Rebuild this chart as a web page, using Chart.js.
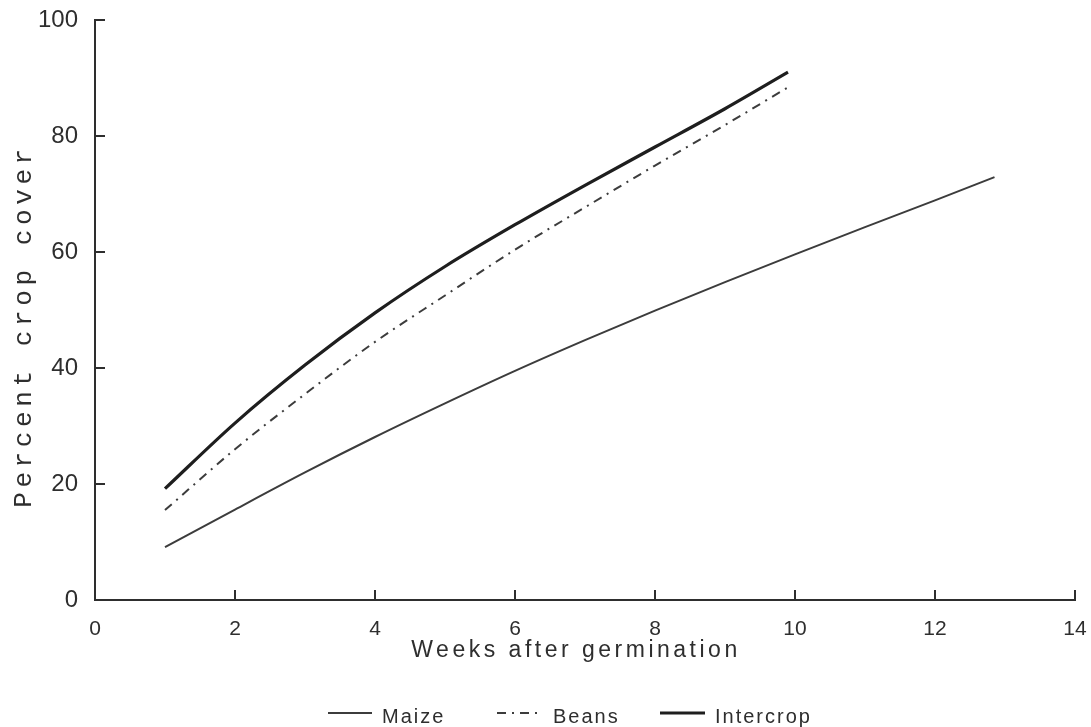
<!DOCTYPE html>
<html>
<head>
<meta charset="utf-8">
<script src="https://cdn.jsdelivr.net/npm/chart.js@4"></script>
<style>
  html, body { margin: 0; padding: 0; background: #fff; }
  #wrap { width: 1091px; height: 727px; }
</style>
</head>
<body>
<div id="wrap"><canvas id="cover"></canvas></div>
<script>
// values (weeks after germination, percent cover)
const maizeWeeks = [1, 2, 3, 4, 5, 6, 7, 8, 9, 10, 11, 12, 12.85];
const maizeCover = [9.1, 15.6, 22, 28.1, 33.9, 39.5, 44.8, 49.9, 54.8, 59.6, 64.3, 68.9, 72.9];
const beansWeeks = [1, 2, 3, 4, 5, 6, 7, 8, 9, 9.9];
const beansCover = [15.5, 26, 35.5, 44.5, 52.5, 60.4, 67.7, 74.9, 81.9, 88.4];
const intercropWeeks = [1, 2, 3, 4, 5, 6, 7, 8, 9, 9.9];
const intercropCover = [19.2, 30.5, 40.5, 49.5, 57.5, 64.7, 71.5, 78.1, 84.7, 91];
const seriesNames = ['Maize', 'Beans', 'Intercrop'];
const xTitle = 'Weeks after germination';
const yTitle = 'Percent crop cover';

const ink = '#2e2e2e';

function pairs(xs, ys) {
    return xs.map((x, i) => ({ x: x, y: ys[i] }));
}

// ticks point into the plot, titles and legend drawn by hand
const figureBits = {
    id: 'figureBits',
    afterDraw(chart) {
        const ctx = chart.ctx;
        const xs = chart.scales.x, ys = chart.scales.y;
        ctx.save();
        ctx.strokeStyle = ink;
        ctx.lineWidth = 2;
        xs.ticks.forEach(t => {
            if (t.value === 0) return;
            const px = xs.getPixelForValue(t.value);
            ctx.beginPath();
            ctx.moveTo(px, xs.top);
            ctx.lineTo(px, xs.top - 10);
            ctx.stroke();
        });
        ys.ticks.forEach(t => {
            if (t.value === 0) return;
            const py = ys.getPixelForValue(t.value);
            ctx.beginPath();
            ctx.moveTo(ys.right, py);
            ctx.lineTo(ys.right + 10, py);
            ctx.stroke();
        });

        ctx.fillStyle = ink;
        ctx.textAlign = 'center';
        ctx.textBaseline = 'middle';
        ctx.font = '23px "Liberation Sans", Arial, sans-serif';
        ctx.letterSpacing = '3.5px';
        ctx.fillText(xTitle, 576, 651);

        ctx.save();
        ctx.translate(24, 326);
        ctx.rotate(-Math.PI / 2);
        ctx.font = '26px "Liberation Mono", "DejaVu Sans Mono", monospace';
        ctx.letterSpacing = '4.6px';
        ctx.fillText(yTitle, 0, 0);
        ctx.restore();

        // legend along the bottom
        const legendX = [[328, 372], [497, 543], [660, 705]];
        ctx.textAlign = 'left';
        ctx.font = '20px "Liberation Sans", Arial, sans-serif';
        ctx.letterSpacing = '2px';
        chart.data.datasets.forEach((ds, i) => {
            const [a, b] = legendX[i];
            ctx.save();
            ctx.strokeStyle = ds.borderColor;
            ctx.lineWidth = ds.borderWidth;
            ctx.setLineDash(ds.borderDash || []);
            ctx.beginPath();
            ctx.moveTo(a, 713);
            ctx.lineTo(b, 713);
            ctx.stroke();
            ctx.restore();
            ctx.fillText(ds.label, b + 10, 717);
        });
        ctx.restore();
    }
};

new Chart(document.getElementById('cover'), {
    type: 'line',
    data: {
        datasets: [
            {
                label: seriesNames[0],
                data: pairs(maizeWeeks, maizeCover),
                borderColor: '#3c3c3c',
                borderWidth: 2,
                pointRadius: 0,
                cubicInterpolationMode: 'monotone'
            },
            {
                label: seriesNames[1],
                data: pairs(beansWeeks, beansCover),
                borderColor: '#3c3c3c',
                borderWidth: 2,
                borderDash: [9, 6, 2, 6],
                pointRadius: 0,
                cubicInterpolationMode: 'monotone'
            },
            {
                label: seriesNames[2],
                data: pairs(intercropWeeks, intercropCover),
                borderColor: '#1e1e1e',
                borderWidth: 3.2,
                pointRadius: 0,
                cubicInterpolationMode: 'monotone'
            }
        ]
    },
    options: {
        responsive: true,
        maintainAspectRatio: false,
        animation: false,
        layout: { padding: 0 },
        plugins: {
            legend: { display: false },
            tooltip: { enabled: false }
        },
        scales: {
            x: {
                type: 'linear',
                min: 0,
                max: 14,
                grid: { display: false, drawTicks: false },
                border: { display: true, color: ink, width: 2 },
                ticks: {
                    stepSize: 2,
                    padding: 17,
                    color: ink,
                    font: { family: '"Liberation Sans", Arial, sans-serif', size: 21 }
                },
                afterFit: s => { s.height = 127; s.paddingRight = 16; }
            },
            y: {
                min: 0,
                max: 100,
                grid: { display: false, drawTicks: false },
                border: { display: true, color: ink, width: 2 },
                ticks: {
                    stepSize: 20,
                    padding: 17,
                    color: ink,
                    font: { family: '"Liberation Sans", Arial, sans-serif', size: 24 }
                },
                afterFit: s => { s.width = 95; s.paddingTop = 20; }
            }
        }
    },
    plugins: [figureBits]
});
</script>
</body>
</html>
